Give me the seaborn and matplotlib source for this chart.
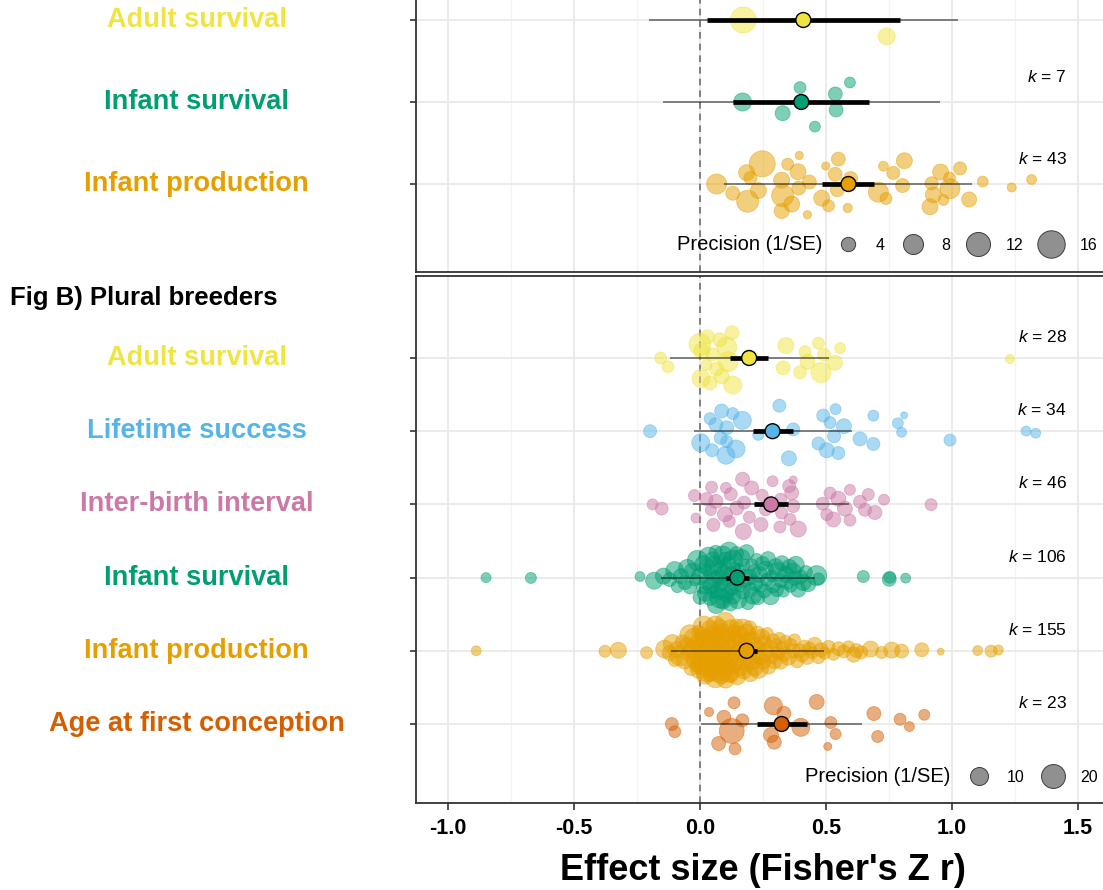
import numpy as np
import pandas as pd
import matplotlib
matplotlib.use("Agg")
import matplotlib.pyplot as plt
import seaborn as sns
from matplotlib.lines import Line2D
from matplotlib.transforms import blended_transform_factory

# ---------------- data ----------------
top_cats = ["Adult survival", "Infant survival", "Infant production"]
top_k = [2, 7, 43]
top_mean = [0.410, 0.402, 0.589]
top_ci_lo = [0.029, 0.132, 0.483]
top_ci_hi = [0.794, 0.669, 0.690]
top_pi_lo = [-0.201, -0.148, 0.095]
top_pi_hi = [1.025, 0.952, 1.078]

top_adult_z = [0.172, 0.741]
top_adult_p = [14.3, 5.7]
top_infsurv_z = [0.169, 0.397, 0.328, 0.537, 0.540, 0.595, 0.456]
top_infsurv_p = [6.4, 2.9, 4.4, 3.8, 3.8, 2.5, 2.5]
top_infprod_z = [0.066, 0.130, 0.185, 0.189, 0.232, 0.247, 0.324, 0.328, 0.364, 0.348,
                 0.392, 0.394, 0.389, 0.324, 0.434, 0.426, 0.499, 0.483, 0.536, 0.545,
                 0.549, 0.586, 0.598, 0.708, 0.738, 0.728, 0.767, 0.804, 0.811, 0.919,
                 0.955, 0.990, 0.992, 0.926, 0.913, 0.966, 1.032, 1.068, 1.122, 1.237,
                 1.316, 0.200, 0.510]
top_infprod_p = [8.0, 3.8, 5.0, 9.9, 5.0, 14.3, 4.4, 9.9, 5.0, 2.9,
                 3.8, 1.8, 5.0, 5.0, 3.8, 1.8, 1.8, 5.0, 3.8, 3.8,
                 3.8, 2.0, 3.8, 8.0, 2.9, 2.2, 3.4, 3.8, 5.0, 3.4,
                 5.0, 2.9, 8.0, 5.0, 5.0, 2.5, 3.4, 4.4, 2.5, 2.0,
                 2.2, 3.4, 2.9]

bot_cats = ["Adult survival", "Lifetime success", "Inter-birth interval",
            "Infant survival", "Infant production", "Age at first conception"]
bot_k = [28, 34, 46, 106, 155, 23]
bot_mean = [0.195, 0.288, 0.282, 0.148, 0.185, 0.324]
bot_ci_lo = [0.120, 0.212, 0.214, 0.105, 0.155, 0.225]
bot_ci_hi = [0.270, 0.368, 0.350, 0.195, 0.225, 0.423]
bot_pi_lo = [-0.120, -0.024, -0.029, -0.156, -0.116, 0.004]
bot_pi_hi = [0.510, 0.602, 0.593, 0.456, 0.493, 0.644]

adult_z = [-0.156, -0.127, 0.026, 0.007, 0.004, 0.000, 0.040, 0.030, 0.086, 0.130,
           0.111, 0.079, 0.106, 0.066, 0.194, 0.127, 0.330, 0.341, 0.397, 0.417,
           0.427, 0.470, 0.480, 0.492, 0.536, 0.556, 1.230, 0.050]
adult_p = [3.6, 3.6, 2.9, 7.5, 10.0, 16.4, 5.3, 5.3, 6.3, 10.0,
           13.0, 5.3, 13.0, 5.3, 4.4, 5.3, 5.3, 7.5, 4.4, 3.6,
           6.3, 3.6, 13.0, 4.4, 6.3, 2.9, 1.9, 4.4]

life_z = [-0.198, 0.040, 0.086, 0.130, 0.063, 0.168, 0.106, 0.003, 0.082, 0.106,
          0.048, 0.103, 0.143, 0.231, 0.315, 0.370, 0.353, 0.489, 0.538, 0.516,
          0.571, 0.470, 0.532, 0.503, 0.549, 0.635, 0.688, 0.688, 0.785, 0.810,
          0.800, 0.992, 1.294, 1.332]
life_p = [4.4, 3.6, 5.3, 3.6, 5.3, 10.0, 5.3, 10.0, 4.4, 3.6,
          4.4, 10.0, 10.0, 2.9, 4.4, 4.4, 6.3, 4.4, 2.9, 3.6,
          6.3, 4.4, 4.4, 6.3, 4.4, 5.3, 2.9, 4.4, 2.9, 1.2,
          2.3, 3.6, 2.3, 2.3]

ibi_z = [-0.188, -0.152, -0.022, -0.016, 0.026, 0.046, 0.043, 0.063, 0.053, 0.103,
         0.122, 0.099, 0.116, 0.169, 0.205, 0.146, 0.175, 0.172, 0.196, 0.242,
         0.247, 0.288, 0.320, 0.324, 0.317, 0.354, 0.370, 0.364, 0.370, 0.357,
         0.390, 0.487, 0.516, 0.503, 0.529, 0.549, 0.575, 0.595, 0.595, 0.635,
         0.668, 0.655, 0.694, 0.730, 0.917, 0.260]
ibi_p = [2.9, 4.4, 3.6, 2.3, 4.4, 3.6, 2.9, 5.3, 4.4, 2.9,
         4.4, 6.3, 3.6, 5.3, 5.3, 5.3, 4.4, 7.5, 3.6, 5.3,
         3.6, 2.9, 3.6, 3.6, 3.6, 4.4, 4.4, 5.3, 1.5, 3.6,
         7.5, 4.4, 3.6, 3.6, 6.3, 6.3, 6.3, 2.9, 3.6, 4.4,
         3.6, 4.4, 5.3, 2.9, 3.6, 3.6]

infsurv_z = [-0.849, -0.671, -0.238, -0.182,
             -0.145, -0.120, -0.100, -0.090, -0.075, -0.060, -0.050, -0.040,
             -0.030, -0.020, -0.010, 0.000, 0.000, 0.010, 0.015, 0.020, 0.025,
             0.030, 0.035, 0.040, 0.040, 0.045, 0.050, 0.050, 0.055,
             0.060, 0.062, 0.065, 0.070, 0.072, 0.075, 0.080, 0.082, 0.085, 0.090,
             0.092, 0.095, 0.100, 0.100, 0.105, 0.110, 0.112, 0.115, 0.120, 0.122,
             0.125, 0.130, 0.133, 0.138, 0.140, 0.145, 0.150,
             0.155, 0.160, 0.165, 0.170, 0.175, 0.180, 0.185, 0.190, 0.195, 0.200,
             0.205, 0.210, 0.215, 0.220, 0.225, 0.230, 0.235, 0.240, 0.248,
             0.255, 0.260, 0.265, 0.270, 0.280, 0.285, 0.290, 0.300, 0.305, 0.310,
             0.320, 0.325, 0.330, 0.340, 0.345,
             0.355, 0.360, 0.370, 0.375, 0.380, 0.390, 0.400, 0.410, 0.420, 0.430,
             0.463, 0.470,
             0.648, 0.751, 0.753, 0.816]
infsurv_p = [2.3, 2.9, 2.3, 8.7,
             7.5, 5.3, 10.0, 3.6, 6.3, 5.3, 10.0, 4.4,
             7.5, 3.6, 13.0, 5.3, 8.7, 4.4, 10.0, 6.3, 3.6,
             7.5, 13.0, 5.3, 4.4, 8.7, 6.3, 3.6, 10.0,
             7.5, 4.4, 10.0, 5.3, 8.7, 3.6, 13.0, 6.3, 4.4, 10.0,
             5.3, 7.5, 16.4, 4.4, 6.3, 8.7, 3.6, 10.0, 5.3, 7.5,
             4.4, 13.0, 6.3, 3.6, 8.7, 5.3, 10.0,
             6.3, 4.4, 8.7, 5.3, 3.6, 10.0, 6.3, 4.4, 7.5, 5.3,
             3.6, 8.7, 4.4, 6.3, 3.6, 5.3, 7.5, 4.4, 5.3,
             5.3, 7.5, 4.4, 6.3, 8.7, 3.6, 5.3, 7.5, 4.4, 10.0,
             5.3, 6.3, 3.6, 7.5, 5.3,
             6.3, 4.4, 7.5, 5.3, 8.7, 6.3, 5.3, 7.5, 4.4, 6.3,
             13.0, 3.6,
             3.6, 5.3, 3.6, 2.3]

infprod_z = [-0.888, -0.377, -0.324, -0.212, -0.140,
             -0.120, -0.110, -0.100, -0.090, -0.080, -0.070, -0.060, -0.050,
             -0.045, -0.040, -0.035, -0.030, -0.025, -0.020, -0.015, -0.010, -0.008,
             -0.005, -0.002, 0.000,
             0.002, 0.005, 0.008, 0.010, 0.013, 0.016, 0.020, 0.022, 0.025, 0.028,
             0.030, 0.033, 0.036, 0.040, 0.042, 0.045, 0.048, 0.050,
             0.052, 0.055, 0.058, 0.060, 0.062, 0.065, 0.068, 0.070, 0.072, 0.075,
             0.078, 0.080, 0.082, 0.085, 0.088, 0.090, 0.092, 0.095, 0.098, 0.100,
             0.102, 0.105, 0.108, 0.110, 0.113, 0.116, 0.120, 0.122, 0.125, 0.128,
             0.130, 0.133, 0.136, 0.140, 0.142, 0.145, 0.148, 0.150,
             0.153, 0.156, 0.160, 0.163, 0.166, 0.170, 0.173, 0.176, 0.180, 0.184,
             0.188, 0.190, 0.194, 0.197, 0.200,
             0.204, 0.208, 0.212, 0.216, 0.220, 0.224, 0.228, 0.232, 0.236, 0.240,
             0.245, 0.250,
             0.255, 0.260, 0.266, 0.272, 0.278, 0.284, 0.290, 0.295, 0.300,
             0.310, 0.315, 0.320, 0.330, 0.335, 0.340, 0.350, 0.360, 0.370, 0.375,
             0.385, 0.395,
             0.405, 0.415, 0.425, 0.435, 0.445, 0.455, 0.470, 0.480, 0.495,
             0.510, 0.530, 0.550, 0.570, 0.590, 0.610, 0.620, 0.640,
             0.677, 0.721, 0.761, 0.800, 0.880, 0.955, 1.102, 1.155, 1.184]
infprod_p = [2.3, 3.6, 7.5, 3.6, 10.0,
             6.3, 10.0, 4.4, 7.5, 13.0, 5.3, 8.7, 6.3,
             7.5, 13.0, 5.3, 10.0, 6.3, 16.4, 4.4, 8.7, 7.5,
             5.3, 10.0, 6.3,
             10.0, 5.3, 13.0, 7.5, 4.4, 16.4, 8.7, 6.3, 10.0, 5.3,
             20.3, 7.5, 4.4, 10.0, 6.3, 8.7, 13.0, 5.3,
             7.5, 13.0, 5.3, 10.0, 16.4, 6.3, 8.7, 4.4, 20.3, 7.5,
             10.0, 5.3, 13.0, 6.3, 8.7, 4.4, 10.0, 7.5, 5.3, 13.0,
             8.7, 5.3, 10.0, 6.3, 13.0, 4.4, 7.5, 10.0, 5.3, 8.7,
             16.4, 6.3, 4.4, 10.0, 7.5, 5.3, 8.7, 6.3,
             7.5, 10.0, 5.3, 8.7, 4.4, 13.0, 6.3, 7.5, 5.3, 10.0,
             4.4, 6.3, 8.7, 5.3, 7.5,
             6.3, 8.7, 4.4, 10.0, 5.3, 7.5, 6.3, 13.0, 4.4, 5.3,
             7.5, 6.3,
             5.3, 7.5, 4.4, 6.3, 8.7, 4.4, 5.3, 6.3, 4.4,
             5.3, 3.6, 6.3, 4.4, 5.3, 3.6, 7.5, 4.4, 5.3, 3.6,
             4.4, 5.3,
             4.4, 3.6, 5.3, 4.4, 3.6, 6.3, 4.4, 5.3, 3.6,
             4.4, 3.6, 5.3, 4.4, 3.6, 6.3, 5.3, 4.4,
             7.5, 3.6, 7.5, 5.3, 5.3, 1.2, 2.3, 3.6, 2.3]

afc_z = [-0.112, -0.100, 0.036, 0.095, 0.135, 0.168, 0.126, 0.074, 0.139, 0.291,
         0.333, 0.282, 0.295, 0.400, 0.463, 0.519, 0.538, 0.507, 0.690, 0.705,
         0.794, 0.831, 0.890]
afc_p = [4.4, 3.6, 1.9, 5.3, 3.6, 4.4, 22.0, 5.3, 3.6, 10.0,
         5.3, 6.3, 5.3, 10.0, 6.3, 3.6, 2.9, 1.5, 5.3, 3.6,
         3.6, 2.3, 2.9]

top_legend_vals = [4, 8, 12, 16]
bot_legend_vals = [10, 20]

palette = {"Adult survival": "#F0E442", "Infant survival": "#009E73",
           "Infant production": "#E69F00", "Lifetime success": "#56B4E9",
           "Inter-birth interval": "#CC79A7", "Age at first conception": "#D55E00"}

# ---------------- helpers ----------------
DPI = 100
PX2PT = 72.0 / DPI


def diam_top(p):
    return 5 + 5.88 * np.sqrt(np.clip(np.asarray(p, float) - 1.5, 0, None))


def diam_bot(p):
    return 5 + 4.33 * np.sqrt(np.clip(np.asarray(p, float) - 1.0, 0, None))


def vdc(n):
    out = []
    for i in range(1, n + 1):
        v, denom, k = 0.0, 1.0, i
        while k:
            denom *= 2
            k, r = divmod(k, 2)
            v += r / denom
        out.append(v)
    return np.array(out)


def quasirandom(x, width, adjust=1.3):
    x = np.asarray(x, float)
    n = len(x)
    if n < 2:
        return np.zeros(n)
    sd = x.std(ddof=1)
    q75, q25 = np.percentile(x, [75, 25])
    lo = min(sd, (q75 - q25) / 1.34) if (q75 - q25) > 0 else sd
    bw = 0.9 * lo * n ** (-0.2) * adjust
    if bw <= 0:
        bw = 0.05
    dens = np.exp(-0.5 * ((x[:, None] - x[None, :]) / bw) ** 2).sum(1)
    dens = dens / dens.max()
    ranks = np.argsort(np.argsort(x, kind="stable"), kind="stable")
    return (vdc(n)[ranks] - 0.5) * 2 * width * dens


def draw_panel(ax, cats, zs, ps, means, cilo, cihi, pilo, pihi, ks, diam_fn,
               width, k_off_px):
    rows = np.arange(len(cats))
    frames = []
    for r, c, z, p in zip(rows, cats, zs, ps):
        z = np.asarray(z, float)
        off = quasirandom(z, width)
        frames.append(pd.DataFrame({"cat": c, "z": z, "y": r - off,
                                    "s": (diam_fn(p) * PX2PT) ** 2}))
    df = pd.concat(frames, ignore_index=True)
    ax.axvline(0, color="#6e6e6e", ls=(0, (4, 3)), lw=1.2, zorder=2)
    sns.scatterplot(data=df, x="z", y="y", hue="cat", palette=palette,
                    s=df["s"].to_numpy(), alpha=0.5, edgecolor="face",
                    linewidth=0.6, legend=False, ax=ax, zorder=3)
    ax.hlines(rows, pilo, pihi, color=(0, 0, 0, 0.55), lw=1.2, zorder=4)
    ax.hlines(rows, cilo, cihi, color="black", lw=3.4, zorder=5)
    mdf = pd.DataFrame({"cat": cats, "m": means, "row": rows})
    sns.scatterplot(data=mdf, x="m", y="row", hue="cat", palette=palette,
                    s=115, edgecolor="black", linewidth=1.0, legend=False,
                    ax=ax, zorder=6)
    for r, k in zip(rows, ks):
        ax.annotate(f"$k$ = {k}", xy=(1.455, r), xytext=(0, k_off_px * PX2PT),
                    textcoords="offset points", ha="right", va="center",
                    fontsize=12.5, color="black", zorder=7,
                    annotation_clip=False)
    # category labels
    tr = blended_transform_factory(ax.figure.transFigure, ax.transData)
    for r, c in zip(rows, cats):
        ax.text(196.5 / 1103, r, c, transform=tr, ha="center", va="center",
                fontsize=19.6, fontweight="bold", color=palette[c])
    ax.set_yticks(rows)
    ax.set_yticklabels([])
    ax.set_xlim(-1.127, 1.627)
    ax.set_xticks([-1.0, -0.5, 0.0, 0.5, 1.0, 1.5])
    ax.set_xticks([-0.75, -0.25, 0.25, 0.75, 1.25], minor=True)
    ax.set_axisbelow(True)
    ax.grid(which="major", axis="both", color="#ebebeb", lw=1.4)
    ax.grid(which="minor", axis="x", color="#f3f3f3", lw=0.9)
    for sp in ax.spines.values():
        sp.set_color("#333333")
        sp.set_linewidth(1.3)
    ax.tick_params(axis="y", which="major", length=4, width=1.2, color="#333333",
                   left=True)
    ax.set_xlabel("")
    ax.set_ylabel("")


def add_legend(ax, vals, diam_fn, title_x, x0, y0):
    handles = [Line2D([], [], marker="o", ls="none",
                      markersize=float(diam_fn(v)) * PX2PT,
                      markerfacecolor=(0.42, 0.42, 0.42, 0.75),
                      markeredgecolor="#3c3c3c", markeredgewidth=0.7)
               for v in vals]
    leg = ax.legend(handles, [str(v) for v in vals], ncol=len(vals),
                    loc="center left", bbox_to_anchor=(x0, y0), frameon=False,
                    fontsize=11.5, handlelength=1.0, handletextpad=1.25,
                    columnspacing=1.25, borderpad=0, borderaxespad=0)
    for t in leg.get_texts():
        t.set_color("black")
    ax.text(title_x, y0, "Precision (1/SE)", transform=ax.transAxes,
            ha="right", va="center", fontsize=14.5, color="black")
    return leg


# ---------------- figure ----------------
sns.set_theme(style="white")
plt.rcParams["font.family"] = ["Liberation Sans", "DejaVu Sans"]
plt.rcParams["mathtext.fontset"] = "custom"
plt.rcParams["mathtext.it"] = "Liberation Sans:italic"
plt.rcParams["mathtext.rm"] = "Liberation Sans"
plt.rcParams["text.color"] = "black"
plt.rcParams["axes.labelcolor"] = "black"
plt.rcParams["xtick.color"] = "black"

W, H = 1103, 890
fig = plt.figure(figsize=(W / DPI, H / DPI), dpi=DPI)
left = 416 / W
width = (1110 - 416) / W
ax_top = fig.add_axes([left, (H - 272) / H, width, (272 + 70) / H])
ax_bot = fig.add_axes([left, (H - 803) / H, width, (803 - 276) / H])

draw_panel(ax_top, top_cats, [top_adult_z, top_infsurv_z, top_infprod_z],
           [top_adult_p, top_infsurv_p, top_infprod_p], top_mean, top_ci_lo,
           top_ci_hi, top_pi_lo, top_pi_hi, top_k, diam_top, 0.40, 25)
ax_top.set_ylim(2 + 88 / 82, -90 / 82)
ax_top.tick_params(axis="x", which="both", bottom=False, labelbottom=False)
add_legend(ax_top, top_legend_vals, diam_top, (822 - 416) / 694,
           (840 - 416) / 694, 27 / 342)

draw_panel(ax_bot, bot_cats, [adult_z, life_z, ibi_z, infsurv_z, infprod_z, afc_z],
           [adult_p, life_p, ibi_p, infsurv_p, infprod_p, afc_p], bot_mean,
           bot_ci_lo, bot_ci_hi, bot_pi_lo, bot_pi_hi, bot_k, diam_bot, 0.40, 21)
ax_bot.set_ylim(5 + 79 / 73.2, -82 / 73.2)
ax_bot.tick_params(axis="x", which="major", bottom=True, length=5, width=1.2,
                   color="#333333", pad=6, labelsize=15.5, labelcolor="black")
ax_bot.tick_params(axis="x", which="minor", bottom=False)
ax_bot.set_xticklabels(["-1.0", "-0.5", "0.0", "0.5", "1.0", "1.5"],
                       fontweight="bold")
ax_bot.set_xlabel("Effect size (Fisher's Z r)", fontsize=26, fontweight="bold",
                  labelpad=10, color="black")
add_legend(ax_bot, bot_legend_vals, diam_bot, (950 - 416) / 694,
           (971 - 416) / 694, 26 / 527)

fig.text(10 / W, 1 - 298 / H, "Fig B) Plural breeders", ha="left", va="center",
         fontsize=18.5, fontweight="bold", color="black")

fig.savefig("out.png", dpi=DPI)
